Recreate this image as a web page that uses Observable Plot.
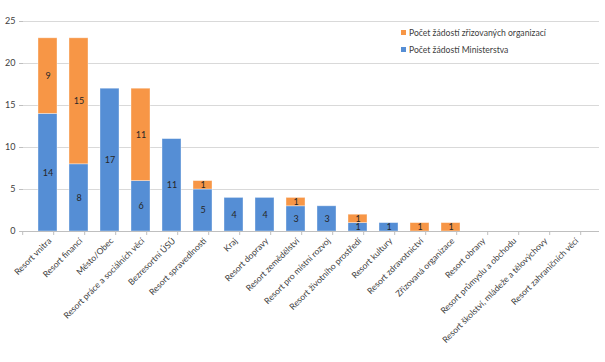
<!DOCTYPE html>
<html>
<head>
<meta charset="utf-8">
<script src="https://cdn.jsdelivr.net/npm/d3@7"></script>
<script src="https://cdn.jsdelivr.net/npm/@observablehq/plot@0.6"></script>
<style>
  html, body { margin: 0; padding: 0; background: #fff; }
  #wrap { position: relative; width: 605px; height: 362px; font-family: Lato, "Open Sans", sans-serif; }
  .legend { position: absolute; left: 401px; top: 25px; font-size: 8.6px; color: #404040; line-height: 17px; }
  .legend .sw { display: inline-block; width: 5px; height: 5px; margin-right: 3px; vertical-align: 1px; }
</style>
</head>
<body>
<div id="wrap"></div>
<script>
const categories = [
  "Resort vnitra", "Resort financí", "Město/Obec", "Resort práce a sociálních věcí",
  "Bezresortní ÚSÚ", "Resort spravedlnosti", "Kraj", "Resort dopravy",
  "Resort zemědělství", "Resort pro místní rozvoj", "Resort životního prostředí",
  "Resort kultury", "Resort zdravotnictví", "Zřizovaná organizace", "Resort obrany",
  "Resort průmyslu a obchodu", "Resort školství, mládeže a tělovýchovy", "Resort zahraničních věcí"
];
const ministerstvo = [14, 8, 17, 6, 11, 5, 4, 4, 3, 3, 1, 1, 0, 0, 0, 0, 0, 0];
const organizace   = [9, 15, 0, 11, 0, 1, 0, 0, 1, 0, 1, 0, 1, 1, 0, 0, 0, 0];
const seriesNames = ["Počet žádostí Ministerstva", "Počet žádostí zřizovaných organizací"];
const seriesColors = ["#558ed5", "#f79646"];
const yTicks = [0, 5, 10, 15, 20, 25];

const rows = [];
categories.forEach((c, i) => {
  rows.push({cat: c, series: seriesNames[0], value: ministerstvo[i]});
  rows.push({cat: c, series: seriesNames[1], value: organizace[i]});
});
const nonzero = rows.filter(d => d.value > 0);

const chart = Plot.plot({
  width: 605,
  height: 362,
  marginLeft: 23,
  marginRight: 6,
  marginTop: 21,
  marginBottom: 131,
  style: {fontFamily: "Lato, 'Open Sans', sans-serif", fontSize: "8.6px", color: "#404040", background: "#fff"},
  x: {domain: categories, padding: 0.375, label: null},
  y: {domain: [0, 25], label: null},
  color: {domain: seriesNames, range: seriesColors},
  marks: [
    Plot.gridY(yTicks.filter(t => t > 0), {stroke: "#d9d9d9", strokeOpacity: 1}),
    Plot.barY(nonzero, Plot.stackY({x: "cat", y: "value", z: "series", fill: "series", order: seriesNames, stroke: "#ffffff", strokeOpacity: 0.45, strokeWidth: 0.8})),
    Plot.text(nonzero, Plot.stackY({x: "cat", y: "value", z: "series", order: seriesNames, text: d => String(d.value), fill: "#262626", fontSize: 9})),
    Plot.axisY({ticks: yTicks, tickSize: 4, tickPadding: 4, stroke: "#bfbfbf", tickFormat: d => d, fill: "#404040", fontSize: 9}),
    Plot.ruleX([0], {frameAnchor: "left", stroke: "#bfbfbf"}),
    Plot.ruleY([0], {stroke: "#bfbfbf"}),
    Plot.axisX({tickSize: 0, tickRotate: -45, tickPadding: 8, textAnchor: "end", fill: "#404040", dx: 2})
  ]
});
document.getElementById("wrap").appendChild(chart);

// boundary ticks on x axis drawn via the scale
const xs = chart.scale("x");
const svg = d3.select(chart);
const step = xs.step;
const y0 = chart.scale("y").apply(0);
const bounds = d3.range(categories.length + 1).map(i => xs.apply(categories[0]) - (xs.bandwidth + step * xs.paddingInner) / 2 + i * step);
svg.append("g").selectAll("line").data(bounds).join("line")
  .attr("x1", d => d).attr("x2", d => d).attr("y1", y0).attr("y2", y0 + 4)
  .attr("stroke", "#bfbfbf");

const legend = document.createElement("div");
legend.className = "legend";
legend.innerHTML = [1, 0].map(i =>
  `<div><span class="sw" style="background:${seriesColors[i]}"></span>${seriesNames[i]}</div>`).join("");
document.getElementById("wrap").appendChild(legend);
</script>
</body>
</html>
